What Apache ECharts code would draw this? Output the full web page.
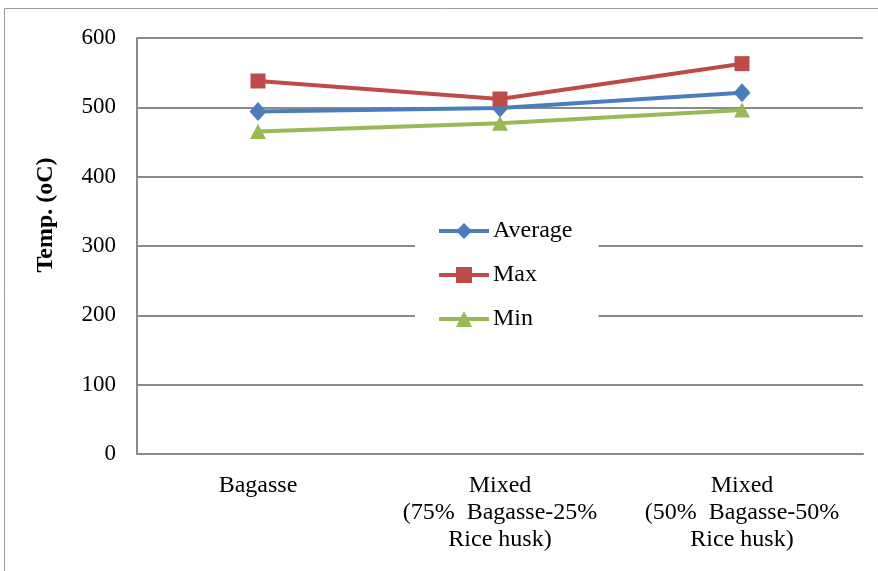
<!DOCTYPE html>
<html>
<head>
<meta charset="utf-8">
<script src="https://cdn.jsdelivr.net/npm/echarts@6/dist/echarts.min.js"></script>
<style>
  html, body { margin: 0; padding: 0; background: #fff; }
  #chart { width: 878px; height: 571px; }
</style>
</head>
<body>
<div id="chart"></div>
<script>
// Fuel blends along the horizontal axis
const categories = [
  'Bagasse',
  'Mixed\n(75%  Bagasse-25%\nRice husk)',
  'Mixed\n(50%  Bagasse-50%\nRice husk)'
];
// Bed temperatures, °C
const averageTemp = [494, 499, 521];
const maxTemp = [538, 512, 563];
const minTemp = [465, 477, 496];
// Value axis range and step
const yMin = 0;
const yMax = 600;
const yStep = 100;

const FONT = '"Liberation Serif", "Times New Roman", serif';
const GRID_COLOR = '#8a8a8a';

const chart = echarts.init(document.getElementById('chart'));

function lineSeries(name, data, color, symbol, size) {
  return {
    name: name,
    type: 'line',
    data: data,
    symbol: symbol,
    symbolSize: size,
    lineStyle: { color: color, width: 4 },
    itemStyle: { color: color },
    z: 3
  };
}

chart.setOption({
  animation: false,
  backgroundColor: '#fff',
  textStyle: { fontFamily: FONT },
  grid: { left: 137, right: 15, top: 38, bottom: 117, containLabel: false },
  graphic: [
    {
      type: 'rect',
      shape: { x: 4.5, y: 8.5, width: 900, height: 600 },
      style: { fill: 'none', stroke: '#9a9a9a', lineWidth: 1 },
      silent: true,
      z: -1
    },
    {
      type: 'text',
      x: 46,
      y: 215,
      rotation: Math.PI / 2,
      style: {
        text: 'Temp. (oC)',
        font: 'bold 24px ' + FONT,
        fill: '#000',
        align: 'center',
        verticalAlign: 'middle'
      }
    }
  ],
  legend: {
    orient: 'vertical',
    left: 415,
    top: 207,
    padding: [12, 26, 12, 22],
    backgroundColor: '#fff',
    itemWidth: 50,
    itemHeight: 20,
    itemGap: 20,
    lineStyle: { width: 4 },
    textStyle: { fontFamily: FONT, fontSize: 24, color: '#000', padding: [0, 0, 0, -1] },
    data: ['Average', 'Max', 'Min'],
    z: 10
  },
  xAxis: {
    type: 'category',
    data: categories,
    boundaryGap: true,
    axisLine: { show: true, lineStyle: { color: GRID_COLOR, width: 2 } },
    axisTick: { show: false },
    axisLabel: {
      color: '#000',
      fontFamily: FONT,
      fontSize: 24,
      lineHeight: 27,
      margin: 18,
      interval: 0,
      align: 'center'
    },
    splitLine: { show: false }
  },
  yAxis: {
    type: 'value',
    min: yMin,
    max: yMax,
    interval: yStep,
    axisLine: { show: true, lineStyle: { color: GRID_COLOR, width: 2 } },
    axisTick: { show: false },
    axisLabel: {
      color: '#000',
      fontFamily: FONT,
      fontSize: 23,
      margin: 21
    },
    splitLine: { show: true, lineStyle: { color: GRID_COLOR, width: 2 } }
  },
  series: [
    lineSeries('Average', averageTemp, '#4a7ebb', 'diamond', [17, 19]),
    lineSeries('Max', maxTemp, '#be4b48', 'rect', 15),
    lineSeries('Min', minTemp, '#98b954', 'triangle', [16, 15])
  ]
});
</script>
</body>
</html>
